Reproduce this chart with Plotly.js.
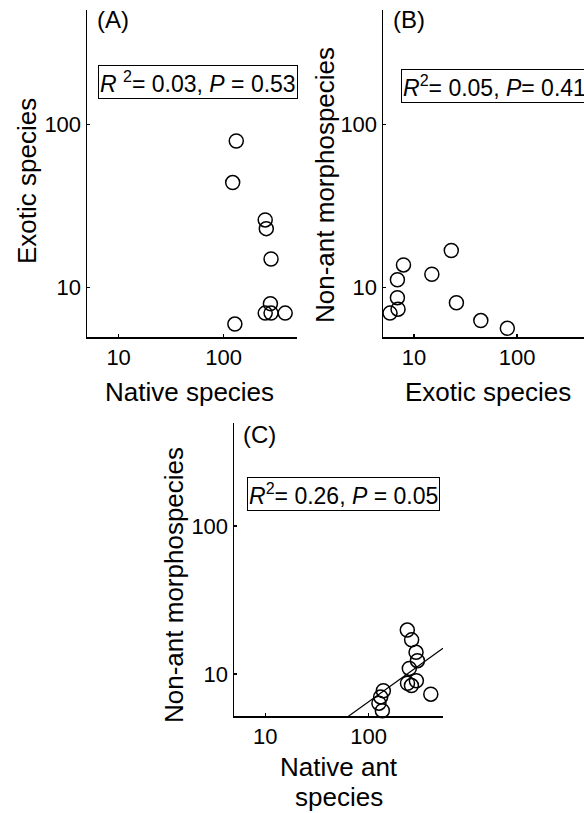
<!DOCTYPE html>
<html><head><meta charset="utf-8">
<script src="https://cdn.plot.ly/plotly-3.0.1.min.js"></script>
<style>html,body{margin:0;padding:0;background:#fff;overflow:hidden}#chart{width:584px;height:813px}</style>
</head><body><div id="chart"></div>
<script>
// Panel A: native species vs exotic species
const nativeA = [132, 122, 249, 255, 283, 279, 249, 283, 386, 128];
const exoticA = [79, 44, 26, 23, 15, 8.0, 7.0, 7.0, 7.0, 6.0];
// Panel B: exotic species vs non-ant morphospecies
const exoticB = [23.0, 7.9, 14.9, 6.9, 6.9, 25.8, 7.0, 5.85, 44.5, 80.5];
const nonAntB = [16.9, 13.8, 12.1, 11.2, 8.7, 8.1, 7.4, 7.0, 6.3, 5.65];
// Panel C: native ant species vs non-ant morphospecies
const nativeAntC = [237, 261, 288, 297, 248, 290, 238, 260, 400, 139, 131, 126, 136];
const nonAntC = [19.8, 17.0, 14.0, 12.3, 10.9, 9.0, 8.65, 8.35, 7.3, 7.7, 7.0, 6.35, 5.65];
// Regression in panel C (log10 y = slope * log10 x + intercept)
const fitSlope = 0.503;
const fitIntercept = -0.194;
const tickVals = [10, 100];
const tickText = ['10', '100'];
const stats = [
  '<i>R</i> <sup>2</sup>= 0.03, <i>P</i> = 0.53',
  '<i>R</i><sup>2</sup>= 0.05, <i>P</i>= 0.41',
  '<i>R</i><sup>2</sup>= 0.26, <i>P</i> = 0.05'
];
const panelLabels = ['(A)', '(B)', '(C)'];

const W = 584, H = 813;
const FONT = 'Liberation Sans, Arial, sans-serif';
const px = v => v / W;
const py = v => 1 - v / H;

const xRangeC = [Math.log10(5), 2.72];
const lineX = [Math.pow(10, xRangeC[0]), Math.pow(10, xRangeC[1])];
const lineY = lineX.map(x => Math.pow(10, fitSlope * Math.log10(x) + fitIntercept));

const mk = {symbol: 'circle-open', size: 14, color: '#000', line: {width: 1.5, color: '#000'}};
const data = [
  {x: nativeA, y: exoticA, type: 'scatter', mode: 'markers', marker: mk, xaxis: 'x', yaxis: 'y', cliponaxis: false},
  {x: exoticB, y: nonAntB, type: 'scatter', mode: 'markers', marker: mk, xaxis: 'x2', yaxis: 'y2', cliponaxis: false},
  {x: lineX, y: lineY, type: 'scatter', mode: 'lines', line: {color: '#000', width: 1.2}, xaxis: 'x3', yaxis: 'y3'},
  {x: nativeAntC, y: nonAntC, type: 'scatter', mode: 'markers', marker: mk, xaxis: 'x3', yaxis: 'y3', cliponaxis: false}
];

function ax(domain, range, anchor) {
  return {
    type: 'log', domain: domain, range: range, anchor: anchor,
    tickvals: tickVals, ticktext: tickText,
    ticks: 'inside', ticklen: 3, tickwidth: 1.2, tickcolor: '#000',
    showline: true, linecolor: '#000', linewidth: 1.5,
    showgrid: false, zeroline: false, mirror: false,
    tickfont: {family: FONT, size: 22, color: '#000'},
    fixedrange: true
  };
}

const layout = {
  width: W, height: H,
  margin: {l: 0, r: 0, t: 0, b: 0},
  paper_bgcolor: '#fff', plot_bgcolor: '#fff',
  showlegend: false,
  font: {family: FONT, color: '#000'},
  xaxis: ax([px(87), px(297)], [Math.log10(5), Math.log10(500)], 'y'),
  yaxis: ax([py(337), py(10)], [Math.log10(5), Math.log10(500)], 'x'),
  xaxis2: ax([px(383), 1], [Math.log10(5), 2.65], 'y2'),
  yaxis2: ax([py(337), py(10)], [Math.log10(5), Math.log10(500)], 'x2'),
  xaxis3: ax([px(234), px(443)], xRangeC, 'y3'),
  yaxis3: ax([py(716), py(423)], [0.716, 2.696], 'x3'),
  annotations: []
};

const titleFont = {family: FONT, size: 26, color: '#000'};
function ann(text, x, y, opts) {
  layout.annotations.push(Object.assign({
    text: text, xref: 'paper', yref: 'paper', x: px(x), y: py(y),
    showarrow: false, font: titleFont, xanchor: 'center', yanchor: 'middle'
  }, opts || {}));
}
// axis titles
ann('Native species', 189, 392);
ann('Exotic species', 488, 392);
ann('Native ant', 339, 767);
ann('species', 339, 797);
ann('Exotic species', 27, 181, {textangle: -90});
ann('Non-ant morphospecies', 325, 185, {textangle: -90});
ann('Non-ant morphospecies', 174, 585, {textangle: -90});
// panel labels
const labFont = {family: FONT, size: 24, color: '#000'};
ann(panelLabels[0], 95, 19, {xanchor: 'left', font: labFont});
ann(panelLabels[1], 391, 19, {xanchor: 'left', font: labFont});
ann(panelLabels[2], 241, 434, {xanchor: 'left', font: labFont});
// statistics boxes
const boxOpts = {xanchor: 'left', bordercolor: '#000', borderwidth: 1, borderpad: 1,
  bgcolor: 'rgba(255,255,255,0)', font: {family: FONT, size: 23, color: '#000'}};
ann(stats[0], 98, 82, boxOpts);
ann(stats[1], 401, 86, boxOpts);
ann(stats[2], 247, 494, boxOpts);

Plotly.newPlot('chart', data, layout, {displayModeBar: false, staticPlot: true});
</script></body></html>
